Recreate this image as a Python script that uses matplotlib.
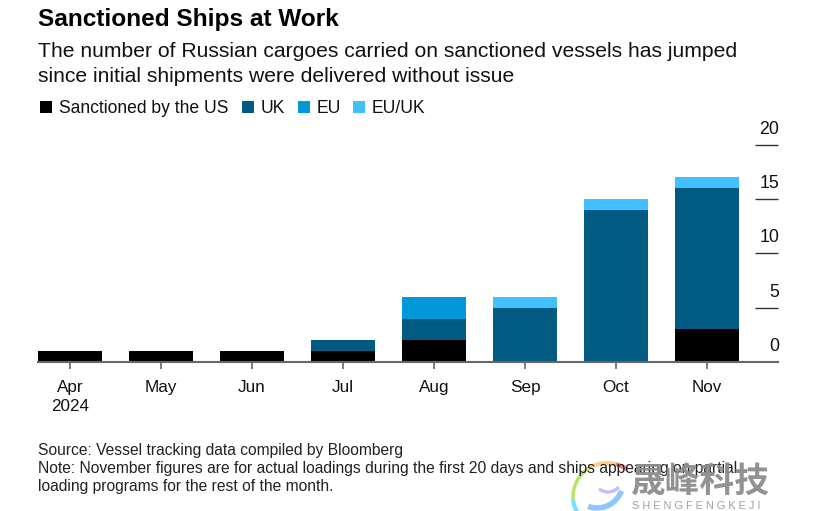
"""Sanctioned ships stacked bars, Bloomberg style."""
import matplotlib

matplotlib.use("Agg")
import matplotlib.pyplot as plt
from matplotlib.patches import Arc, Rectangle

W, H = 822, 511

months = ["Apr\n2024", "May", "Jun", "Jul", "Aug", "Sep", "Oct", "Nov"]
us = [1, 1, 1, 1, 2, 0, 0, 3]
uk = [0, 0, 0, 1, 2, 5, 14, 13]
eu = [0, 0, 0, 0, 2, 0, 0, 0]
eu_uk = [0, 0, 0, 0, 0, 1, 1, 1]
y_ticks = [0, 5, 10, 15, 20]

series = [
    ("Sanctioned by the US", us, "#000000"),
    ("UK", uk, "#005a82"),
    ("EU", eu, "#0098d8"),
    ("EU/UK", eu_uk, "#40c0ff"),
]

plt.rcParams["font.family"] = ["Liberation Sans", "DejaVu Sans"]

fig = plt.figure(figsize=(W / 100, H / 100), dpi=100)
ax = fig.add_axes([38 / W, 1 - 362 / H, 740 / W, (362 - 144.7) / H])


def fx(x):
    return x / W


def fy(y):
    return 1 - y / H


xs = range(len(months))
bottom = [0] * len(months)
for name, vals, color in series:
    ax.bar(xs, vals, width=0.7, bottom=bottom, color=color, zorder=2)
    bottom = [b + v for b, v in zip(bottom, vals)]

ax.set_xlim(-32 / 91, (778 - 70) / 91)
ax.set_ylim(0, 20)
for side in ("top", "left", "right"):
    ax.spines[side].set_visible(False)
ax.spines["bottom"].set_color("#666666")
ax.spines["bottom"].set_linewidth(1.5)
ax.spines["bottom"].set_zorder(3)

ax.set_xticks(list(xs))
ax.set_xticklabels(months, fontsize=12.3, color="#111111", linespacing=1.35)
ax.tick_params(axis="x", length=5, width=1.2, color="#666666", pad=7.8)

# y ticks are short rules at the right edge with the number sitting above them
ax.yaxis.tick_right()
ax.set_yticks(y_ticks[1:])
ax.set_yticklabels([])
ax.tick_params(axis="y", direction="in", length=16.5, width=1, color="#333333", pad=0)
for v in y_ticks:
    ax.annotate(str(v), (1, v), xycoords=("axes fraction", "data"), xytext=(0.8, 8),
                textcoords="offset points", ha="right", va="baseline",
                fontsize=12.8, color="#111111", annotation_clip=False)

fig.text(fx(38), fy(26), "Sanctioned Ships at Work", fontsize=17.6, fontweight="bold",
         color="#000000", va="baseline")
fig.text(fx(38), fy(57), "The number of Russian cargoes carried on sanctioned vessels has jumped",
         fontsize=15.2, color="#111111", va="baseline")
fig.text(fx(38), fy(82), "since initial shipments were delivered without issue",
         fontsize=15.2, color="#111111", va="baseline")

legend_x = [40, 242, 298, 353]
for (name, vals, color), x in zip(series, legend_x):
    fig.add_artist(Rectangle((fx(x), fy(113)), 12 / W, 12 / H, color=color,
                             transform=fig.transFigure, lw=0))
    fig.text(fx(x + 18.5), fy(113), name, fontsize=12.65, color="#111111", va="baseline")

fig.text(fx(38), fy(455), "Source: Vessel tracking data compiled by Bloomberg",
         fontsize=11.24, color="#222222", va="baseline")
fig.text(fx(38), fy(473),
         "Note: November figures are for actual loadings during the first 20 days and ships appearing on partial",
         fontsize=11.24, color="#222222", va="baseline")
fig.text(fx(38), fy(491), "loading programs for the rest of the month.",
         fontsize=11.24, color="#222222", va="baseline")

# watermark, bottom right
fig.text(fx(631), fy(493), "晟峰科技", family=["Noto Sans CJK SC", "DejaVu Sans"],
         fontsize=25, fontweight="bold", color="#8c8c8c", alpha=0.95, va="baseline")
fig.text(fx(632), fy(509), "S H E N G F E N G K E J I", fontsize=7.9,
         color="#a0a0a0", va="baseline")
overlay = fig.add_axes([0, 0, 1, 1], facecolor="none")
overlay.set_xlim(0, W)
overlay.set_ylim(H, 0)
overlay.axis("off")
arcs = [(607, 497, 68, 68, 240, 285, "#ffcf8a", 3), (607, 497, 68, 68, 285, 305, "#f27c7c", 3),
        (607, 497, 68, 68, 175, 240, "#b6e36a", 2.5), (607, 497, 68, 62, 130, 175, "#78dcff", 3),
        (597, 482, 52, 52, 20, 110, "#8cc8ff", 4), (608, 478, 28, 28, 40, 130, "#c9bdf7", 2.5)]
for x, y, w, h, a, b, c, lw in arcs:
    overlay.add_patch(Arc((x, y), w, h, theta1=a, theta2=b, color=c, lw=lw))

fig.savefig("out.png", dpi=100)
plt.close(fig)
